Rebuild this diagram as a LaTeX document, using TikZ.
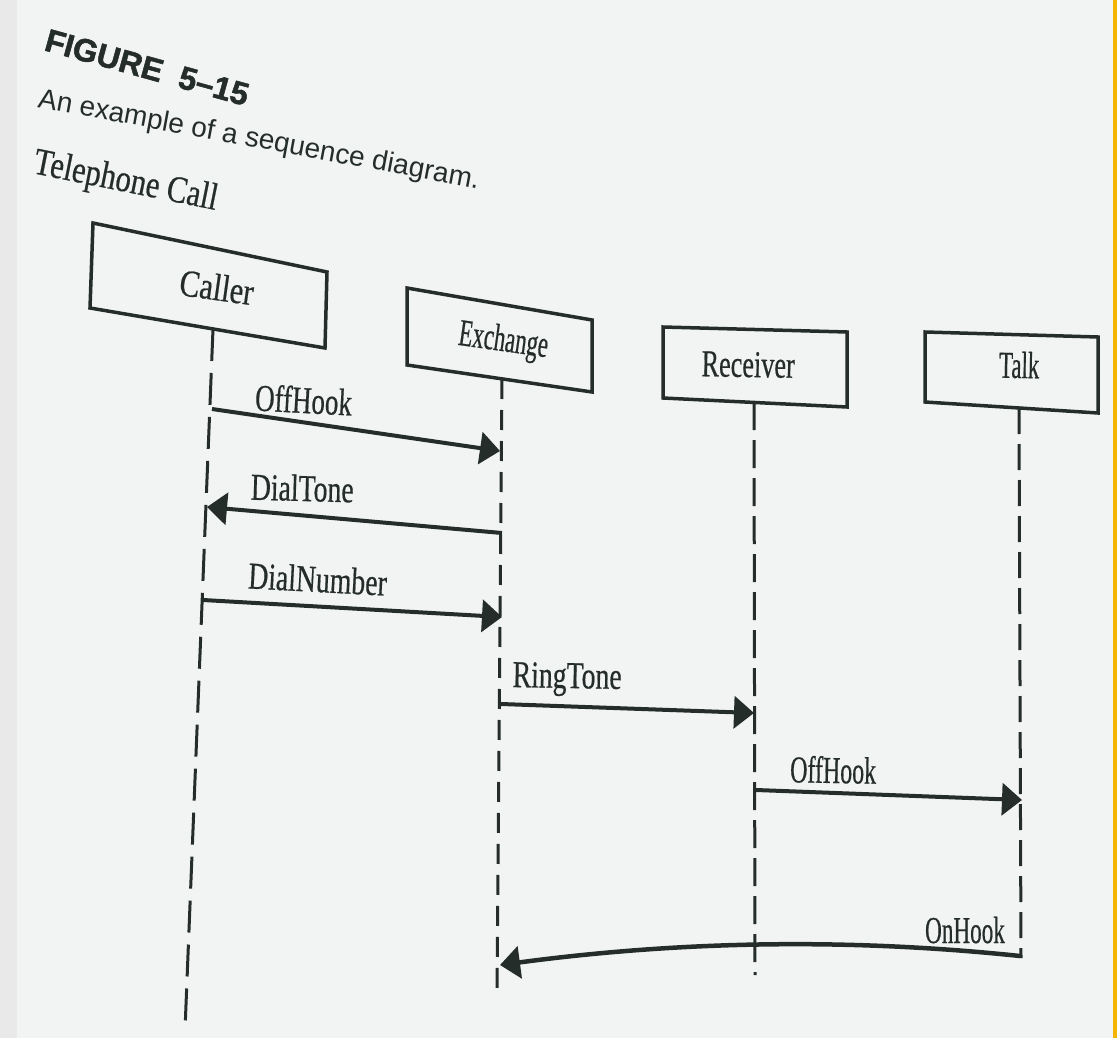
\documentclass[tikz,border=0pt]{standalone}
\usepackage{fontspec}
\setmainfont{Liberation Serif}
\newfontfamily\dfont[FakeBold=0.6]{Liberation Serif}
\newfontfamily\capfont{Liberation Sans}
\newfontfamily\figfont[FakeBold=1.6]{Liberation Sans Bold}
\usetikzlibrary{arrows.meta}
\definecolor{paper}{HTML}{F2F4F3}
\definecolor{margin}{HTML}{E8E9E8}
\definecolor{ink}{HTML}{252D2A}
\definecolor{edge}{HTML}{F5B400}
\begin{document}
\begin{tikzpicture}[x=1pt,y=-1pt,
  boxline/.style={draw=ink, line width=3.5pt, line join=miter},
  lifeline/.style={draw=ink, line width=3pt},
  msg/.style={draw=ink, line width=4pt, -{Triangle[length=20pt,width=32pt]}},
  lbl/.style={text=ink, inner sep=0pt, anchor=base, font=\dfont\fontsize{38}{40}\selectfont},
]
\useasboundingbox (0,0) rectangle (1117,1038);
% page
\fill[paper] (0,0) rectangle (1117,1038);
\fill[margin] (0,0) rectangle (17,1038);
\fill[edge] (1113,0) rectangle (1117,1038);

% caption
\node[anchor=base west, rotate=-15.5, text=ink, inner sep=0pt,
      font=\figfont\fontsize{32}{34}\selectfont] (fig) at (43,50) {FIGURE\hspace{0.55em}5–15};
\node[anchor=base west, rotate=-10.5, text=ink, inner sep=0pt,
      font=\capfont\fontsize{28}{30}\selectfont] (cap) at (37,107) {An example of a sequence diagram.};
\node[anchor=base west, rotate=-11.4, xscale=0.81, text=ink, inner sep=0pt,
      font=\dfont\fontsize{38}{40}\selectfont] (title) at (32,173) {Telephone Call};

% object boxes
\coordinate (callerTL) at (93,223);  \coordinate (callerTR) at (327,272);
\coordinate (callerBR) at (325,348); \coordinate (callerBL) at (90,308);
\draw[boxline] (callerTL) -- (callerTR) -- (callerBR) -- (callerBL) -- cycle;
\node[lbl, rotate=-8, xscale=0.8] (caller) at (215,300) {Caller};

\coordinate (exchTL) at (407,288);  \coordinate (exchTR) at (592,320);
\coordinate (exchBR) at (592,392);  \coordinate (exchBL) at (407,365);
\draw[boxline] (exchTL) -- (exchTR) -- (exchBR) -- (exchBL) -- cycle;
\node[lbl, rotate=-8, xscale=0.6] (exchange) at (502,351) {Exchange};

\coordinate (recvTL) at (663,327);  \coordinate (recvTR) at (847,332);
\coordinate (recvBR) at (847,407);  \coordinate (recvBL) at (663,398);
\draw[boxline] (recvTL) -- (recvTR) -- (recvBR) -- (recvBL) -- cycle;
\node[lbl, rotate=-1, xscale=0.69] (receiver) at (748,377) {Receiver};

\coordinate (talkTL) at (925,332);  \coordinate (talkTR) at (1098,337);
\coordinate (talkBR) at (1098,413); \coordinate (talkBL) at (925,402);
\draw[boxline] (talkTL) -- (talkTR) -- (talkBR) -- (talkBL) -- cycle;
\node[lbl, rotate=-1, xscale=0.6] (talk) at (1019,378) {Talk};

% lifelines
\coordinate (callerTop) at (213,329); \coordinate (callerEnd) at (185,1030);
\coordinate (exchTop) at (502,379);   \coordinate (exchEnd) at (497,993);
\coordinate (recvTop) at (754,402);   \coordinate (recvEnd) at (755,975);
\coordinate (talkTop) at (1019,408);  \coordinate (talkEnd) at (1021,958);
\draw[lifeline, dash pattern=on 32pt off 12pt] (callerTop) -- (callerEnd);
\draw[lifeline, dash pattern=on 20pt off 11pt] (exchTop) -- (exchEnd);
\draw[lifeline, dash pattern=on 28pt off 10pt] (recvTop) -- (recvEnd);
\draw[lifeline, dash pattern=on 26pt off 10pt] (talkTop) -- (talkEnd);

% messages
\coordinate (m1s) at (212,409);  \coordinate (m1e) at (500,451);
\coordinate (m2s) at (502,533);  \coordinate (m2e) at (207,507);
\coordinate (m3s) at (203,600);  \coordinate (m3e) at (502,617);
\coordinate (m4s) at (501,704);  \coordinate (m4e) at (754,713);
\coordinate (m5s) at (756,790);  \coordinate (m5e) at (1022,800);
\coordinate (m6s) at (1020,956); \coordinate (m6e) at (500,965);

\draw[msg] (m1s) -- (m1e);
\node[lbl, rotate=-3, xscale=0.71] (offhook1) at (303,413) {OffHook};

\draw[msg] (m2s) -- (m2e);
\node[lbl, rotate=-1.5, xscale=0.73] (dialtone) at (302,501) {DialTone};

\draw[msg] (m3s) -- (m3e);
\node[lbl, rotate=-3, xscale=0.73] (dialnumber) at (317,592) {DialNumber};

\draw[msg] (m4s) -- (m4e);
\node[lbl, rotate=-1, xscale=0.73] (ringtone) at (567,688) {RingTone};

\draw[msg] (m5s) -- (m5e);
\node[lbl, rotate=-1, xscale=0.63] (offhook2) at (833,783) {OffHook};

\draw[msg, line width=4.5pt] (m6s) .. controls (820,935) and (650,945) .. (m6e);
\node[lbl, xscale=0.61] (onhook) at (965,943) {OnHook};
\end{tikzpicture}
\end{document}
